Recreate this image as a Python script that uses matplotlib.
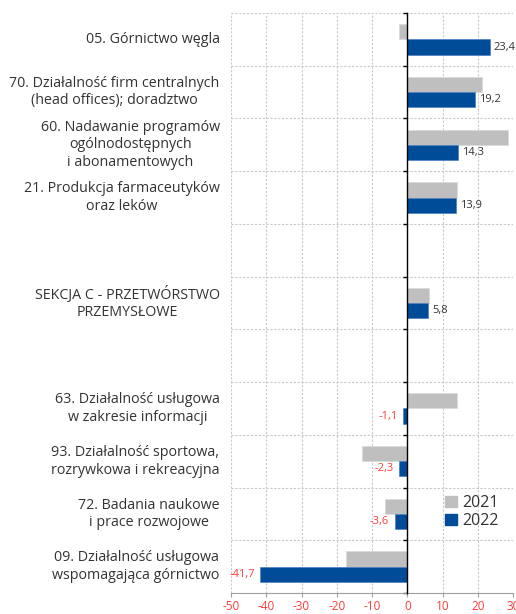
import matplotlib
matplotlib.use("Agg")
import matplotlib.pyplot as plt
import matplotlib.transforms as mtransforms
from matplotlib.patches import Patch

# Data (top to bottom), empty strings are spacer rows
categories = [
    "05. Górnictwo węgla",
    "70. Działalność firm centralnych\n(head offices); doradztwo",
    "60. Nadawanie programów\nogólnodostępnych\ni abonamentowych",
    "21. Produkcja farmaceutyków\noraz leków",
    "",
    "SEKCJA C - PRZETWÓRSTWO\nPRZEMYSŁOWE",
    "",
    "63. Działalność usługowa\nw zakresie informacji",
    "93. Działalność sportowa,\nrozrywkowa i rekreacyjna",
    "72. Badania naukowe\ni prace rozwojowe",
    "09. Działalność usługowa\nwspomagająca górnictwo",
]
vals_2021 = [-2.4, 21.2, 28.6, 14.2, None, 6.2, None, 14.0, -12.7, -6.3, -17.4]
vals_2022 = [23.4, 19.2, 14.3, 13.9, None, 5.8, None, -1.1, -2.3, -3.6, -41.7]
xticks = [-50, -40, -30, -20, -10, 0, 10, 20, 30]

GRAY = "#bfbfbf"
BLUE = "#004c99"
RED = "#ff3b3b"
TEXT = "#333333"
GRID = "#c8c8c8"

plt.rcParams["font.family"] = ["Open Sans", "DejaVu Sans"]

fig = plt.figure(figsize=(5.16, 6.14), dpi=100)
ax = fig.add_axes([0.4477, 0.0342, 0.5465, 0.9446])

n = len(categories)
h = 0.29
for i in range(n):
    if vals_2021[i] is not None:
        ax.barh(i - 0.145, vals_2021[i], height=h, color=GRAY,
                edgecolor="#d9d9d9", linewidth=0.5, zorder=2)
    if vals_2022[i] is not None:
        v = vals_2022[i]
        ax.barh(i + 0.145, v, height=h, color=BLUE,
                edgecolor="#4a7fc0", linewidth=0.5, zorder=2)
        lab = f"{v:.1f}".replace(".", ",")
        if v >= 0:
            ax.annotate(lab, (v, i + 0.145), xytext=(3, 0), textcoords="offset points",
                        ha="left", va="center", fontsize=8, color=TEXT)
        else:
            ax.annotate(lab, (v, i + 0.145), xytext=(-4, 0), textcoords="offset points",
                        ha="right", va="center", fontsize=8, color=RED)

ax.set_xlim(-50, 30)
ax.set_ylim(n - 0.5, -0.5)
ax.set_xticks(xticks)
ax.set_xticklabels([str(t) for t in xticks], color=RED, fontsize=8.5)

# gridlines at category boundaries and x ticks
bounds = [i - 0.5 for i in range(n + 1)]
for b in bounds[:-1]:
    ax.axhline(b, color=GRID, linestyle=(0, (2, 1.5)), linewidth=0.8, zorder=0)
for t in xticks[:-1]:
    ax.axvline(t, color=GRID, linestyle=(0, (2, 1.5)), linewidth=0.8, zorder=0)

for s in ["top", "right"]:
    ax.spines[s].set_visible(False)
ax.spines["left"].set_position(("data", 0))
ax.spines["left"].set_color("black")
ax.spines["left"].set_linewidth(1.0)
ax.spines["left"].set_zorder(3)
ax.spines["bottom"].set_color("#a0a0a0")
ax.set_yticks(bounds)
ax.set_yticklabels([])
ax.tick_params(axis="y", length=3, width=1, color="black", direction="out")
ax.tick_params(axis="x", length=3, color="#a0a0a0", pad=2)

# category labels
trans = mtransforms.blended_transform_factory(ax.transAxes, ax.transData)
for i, c in enumerate(categories):
    if c:
        ax.text(-0.04, i, c, transform=trans, ha="right", va="center",
                multialignment="center", fontsize=10.3, color=TEXT, linespacing=1.25)

handles = [Patch(color=GRAY, label="2021"), Patch(color=BLUE, label="2022")]
ax.legend(handles=handles, loc="lower right", bbox_to_anchor=(1.0, 0.085),
          frameon=False, fontsize=11.5, handlelength=0.7, handleheight=0.7,
          handletextpad=0.35, labelspacing=0.15, labelcolor=TEXT)

fig.savefig("out.png", dpi=100)
